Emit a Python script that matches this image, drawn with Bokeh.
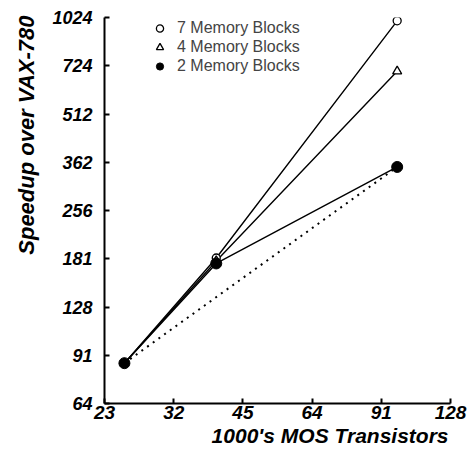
from bokeh.plotting import figure
from bokeh.models import FixedTicker, CustomJSTickFormatter, Legend, LegendItem, Title
from bokeh.embed import file_html
from bokeh.resources import INLINE

# ---- data ----
transistors = [25, 39.6, 98]          # 1000's MOS transistors
speed_7 = [85.5, 182, 1000]           # 7 memory blocks
speed_4 = [85.5, 178, 696]            # 4 memory blocks
speed_2 = [85.5, 175, 350]            # 2 memory blocks
ideal_x = [25, 98]                    # dotted reference line
ideal_y = [85.5, 350]

x_ticks = [22.627, 32, 45.255, 64, 90.51, 128]
x_tick_labels = ["23", "32", "45", "64", "91", "128"]
y_ticks = [64, 90.51, 128, 181.02, 256, 362.04, 512, 724.08, 1024]
y_tick_labels = ["64", "91", "128", "181", "256", "362", "512", "724", "1024"]

FONT = "Liberation Sans"

p = figure(frame_width=346, frame_height=386, x_axis_type="log", y_axis_type="log",
           x_range=(x_ticks[0], x_ticks[-1]), y_range=(y_ticks[0], y_ticks[-1]),
           output_backend="svg", toolbar_location=None,
           min_border_left=103, min_border_right=18, min_border_top=17, min_border_bottom=40)

p.xgrid.visible = False
p.ygrid.visible = False
p.outline_line_color = None
p.background_fill_color = "white"

fmt_code = """
let best = 0;
for (let i = 0; i < tv.length; i++) {
  if (Math.abs(Math.log(tv[i] / tick)) < Math.abs(Math.log(tv[best] / tick))) best = i;
}
return tl[best];
"""
p.xaxis.ticker = FixedTicker(ticks=x_ticks, minor_ticks=[])
p.yaxis.ticker = FixedTicker(ticks=y_ticks, minor_ticks=[])
p.xaxis.formatter = CustomJSTickFormatter(args=dict(tv=x_ticks, tl=x_tick_labels), code=fmt_code)
p.yaxis.formatter = CustomJSTickFormatter(args=dict(tv=y_ticks, tl=y_tick_labels), code=fmt_code)

for ax in (p.xaxis, p.yaxis):
    ax.axis_line_width = 2
    ax.axis_line_color = "black"
    ax.major_tick_line_width = 2
    ax.major_tick_line_color = "black"
    ax.major_tick_in = 5
    ax.major_tick_out = 0
    ax.minor_tick_in = 0
    ax.minor_tick_out = 0
    ax.major_label_text_font = FONT
    ax.major_label_text_font_style = "bold italic"
    ax.major_label_text_color = "black"
p.yaxis.major_label_text_font_size = "18px"
p.xaxis.major_label_text_font_size = "19px"
p.yaxis.major_label_standoff = 12
p.xaxis.major_label_standoff = 2

# lines
p.line(ideal_x, ideal_y, line_color="black", line_width=2, line_dash="2 5")
p.line(transistors, speed_7, line_color="black", line_width=1.4)
p.line(transistors, speed_4, line_color="black", line_width=1.4)
p.line(transistors, speed_2, line_color="black", line_width=1.4)

# markers
r7 = p.scatter(transistors, speed_7, marker="circle", size=8, fill_color="white",
               line_color="black", line_width=1.3)
r4 = p.scatter(transistors, speed_4, marker="triangle", size=9, fill_color="white",
               line_color="black", line_width=1.3)
r2 = p.scatter(transistors, speed_2, marker="circle", size=11, fill_color="black",
               line_color="black", line_width=1)

legend = Legend(items=[LegendItem(label="7 Memory Blocks", renderers=[r7]),
                       LegendItem(label="4 Memory Blocks", renderers=[r4]),
                       LegendItem(label="2 Memory Blocks", renderers=[r2])],
                location=(46, 328), orientation="vertical",
                label_text_font=FONT, label_text_font_size="16px",
                glyph_width=19, glyph_height=18, label_height=17, spacing=1,
                padding=0, margin=0, label_standoff=8,
                border_line_color=None, background_fill_alpha=0)
p.add_layout(legend)

p.add_layout(Title(text="1000's MOS Transistors", align="right", offset=2, standoff=0,
                   text_font=FONT, text_font_style="bold italic", text_font_size="21px",
                   text_color="black"), "below")
p.add_layout(Title(text="Speedup over VAX-780", align="right", offset=-2, standoff=22,
                   text_font=FONT, text_font_style="bold italic", text_font_size="22px",
                   text_color="black"), "left")

open("out.html", "w").write(file_html(p, INLINE))
